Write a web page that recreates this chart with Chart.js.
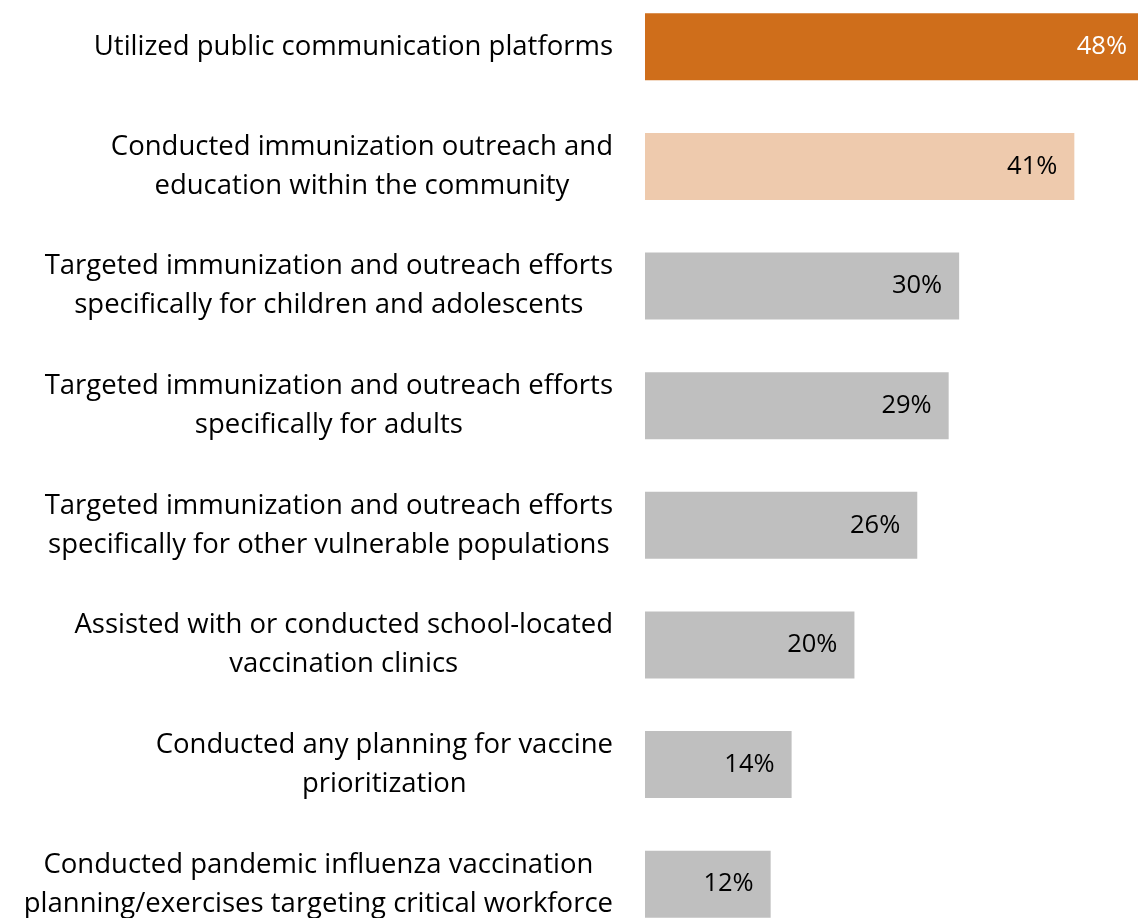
<!DOCTYPE html>
<html>
<head>
<meta charset="utf-8">
<script src="https://cdn.jsdelivr.net/npm/chart.js@4"></script>
<style>
    html, body { margin: 0; padding: 0; background: #fff; overflow: hidden; }
    body { width: 1138px; height: 918px; position: relative; }
    #activitiesChart { position: absolute; left: 0; top: -13px; }
</style>
</head>
<body>
<canvas id="activitiesChart" width="1200" height="957"></canvas>
<script>
// Categories (one array of lines per bar)
const categories = [
    ["Utilized public communication platforms"],
    ["Conducted immunization outreach and", "education within the community"],
    ["Targeted immunization and outreach efforts", "specifically for children and adolescents"],
    ["Targeted immunization and outreach efforts", "specifically for adults"],
    ["Targeted immunization and outreach efforts", "specifically for other vulnerable populations"],
    ["Assisted with or conducted school-located", "vaccination clinics"],
    ["Conducted any planning for vaccine", "prioritization"],
    ["Conducted pandemic influenza vaccination", "planning/exercises targeting critical workforce"]
];

// Share of respondents (%)
const values = [48, 41, 30, 29, 26, 20, 14, 12];

const labelFont = "27.5px 'Open Sans', sans-serif";
const valueFont = "25.5px 'Open Sans', sans-serif";

// Draw wrapped category labels (centered lines, right-aligned block) and value labels
const labelsPlugin = {
    id: "labelsPlugin",
    afterDatasetsDraw(chart) {
        const ctx = chart.ctx;
        const yScale = chart.scales.y;
        const meta = chart.getDatasetMeta(0);
        const rightEdge = 613;
        const lineHeight = 39;

        ctx.save();
        ctx.textBaseline = "middle";

        categories.forEach((lines, i) => {
            const yCenter = yScale.getPixelForTick(i);
            ctx.font = labelFont;
            ctx.fillStyle = "#000";
            ctx.textAlign = "center";
            const maxW = Math.max(...lines.map(l => ctx.measureText(l).width));
            const cx = rightEdge - maxW / 2;
            const top = yCenter - (lines.length - 1) * lineHeight / 2;
            lines.forEach((line, j) => {
                ctx.fillText(line, cx, top + j * lineHeight);
            });

            // value label inside the bar end
            const bar = meta.data[i];
            ctx.font = valueFont;
            ctx.textAlign = "right";
            ctx.fillStyle = i === 0 ? "#fff" : "#000";
            ctx.fillText(values[i] + "%", Math.min(bar.x, 1144) - 17, bar.y);
        });
        ctx.restore();
    }
};

new Chart(document.getElementById("activitiesChart").getContext("2d"), {
    type: "bar",
    data: {
        labels: categories,
        datasets: [{
            data: values,
            backgroundColor: ["#CF6E1B", "#EECAAD", "#BFBFBF", "#BFBFBF", "#BFBFBF", "#BFBFBF", "#BFBFBF", "#BFBFBF"],
            borderWidth: 0,
            categoryPercentage: 1,
            barPercentage: 0.56
        }]
    },
    options: {
        indexAxis: "y",
        responsive: false,
        animation: false,
        layout: { padding: { left: 645, right: 0, top: 0, bottom: 0 } },
        scales: {
            x: { display: false, min: 0, max: 53 },
            y: { display: false }
        },
        plugins: {
            legend: { display: false },
            tooltip: { enabled: false }
        }
    },
    plugins: [labelsPlugin]
});
</script>
</body>
</html>
